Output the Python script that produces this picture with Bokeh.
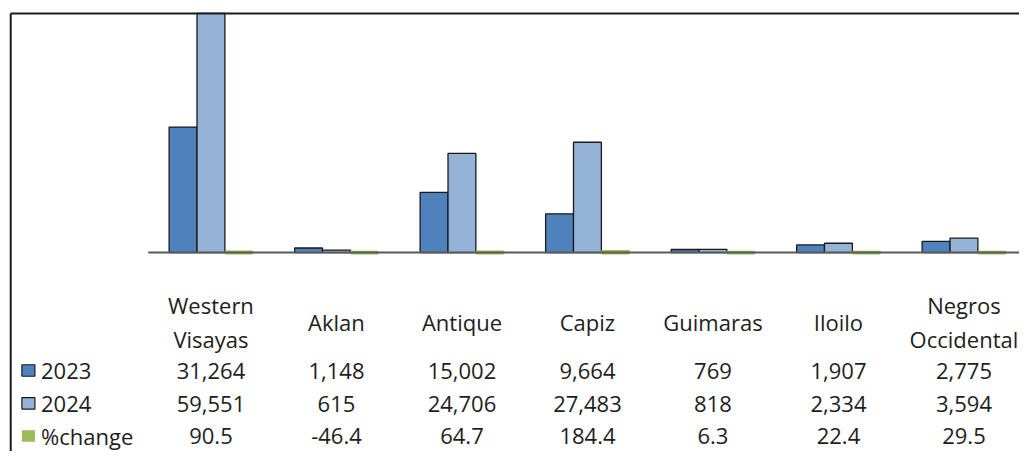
from bokeh.plotting import figure
from bokeh.models import Range1d, ColumnDataSource
from bokeh.core.properties import value
from bokeh.embed import file_html
from bokeh.resources import INLINE

# ---------------- data ----------------
categories = ["Western\nVisayas", "Aklan", "Antique", "Capiz", "Guimaras", "Iloilo", "Negros\nOccidental"]
series_names = ["2023", "2024", "%change"]
values_2023 = [31264, 1148, 15002, 9664, 769, 1907, 2775]
values_2024 = [59551, 615, 24706, 27483, 818, 2334, 3594]
pct_change = [90.5, -46.4, 64.7, 184.4, 6.3, 22.4, 29.5]
series_colors = ["#4F81BD", "#95B3D7", "#9BBB59"]

# ---------------- layout ----------------
W, H = 1019, 451
PX0 = 147.7        # figure px where the category axis starts
CAT_PX = 125.5     # px per category
BASE = 252.1       # figure px (from top) of the zero line
UPP = 249.0        # value units per px
FONT = value("Open Sans")
FS = "22px"
TXT = "#1e1e1e"

def ux(px):
    return (px - PX0) / CAT_PX

def uy(py):
    return (BASE - py) * UPP

p = figure(width=W, height=H,
           x_range=Range1d(ux(0), ux(W)), y_range=Range1d(uy(H), uy(0)),
           x_axis_type=None, y_axis_type=None,
           toolbar_location=None, output_backend="svg", min_border=0)
p.outline_line_color = None
p.background_fill_color = "white"
p.border_fill_color = "white"

n = len(categories)
bw = 1 / 4.5
centers = [i + 0.5 for i in range(n)]
all_series = [values_2023, values_2024, pct_change]

for k, vals in enumerate(all_series):
    xs = [c + (k - 1) * bw for c in centers]
    src = ColumnDataSource(dict(x=xs, top=vals))
    if k < 2:
        p.vbar(x="x", top="top", bottom=0, width=bw, source=src,
               fill_color=series_colors[k], line_color="#1a1a1a", line_width=1.3)
    else:
        p.vbar(x="x", top="top", bottom=0, width=bw * 0.97, source=src,
               fill_color=series_colors[k], line_color=series_colors[k], line_width=3.6)

# category axis line
p.segment(x0=[0], x1=[n], y0=[0], y1=[0], line_color="#595959", line_width=2)

# outer frame (left and top edges)
p.segment(x0=[ux(10.2)], x1=[ux(10.2)], y0=[uy(13)], y1=[uy(H + 5)], line_color="#1a1a1a", line_width=2)
p.segment(x0=[ux(10.2)], x1=[ux(W + 5)], y0=[uy(13)], y1=[uy(13)], line_color="#1a1a1a", line_width=2)

# ---------------- data table ----------------
header_y = uy(321.6)
p.text(x=centers, y=[header_y] * n, text=categories, text_font=FONT, text_font_size=FS,
       text_color=TXT, text_align="center", text_baseline="middle", text_line_height=1.14)

row_px = [370.5, 403.5, 435.5]
row_labels = [
    [f"{v:,}" for v in values_2023],
    [f"{v:,}" for v in values_2024],
    [f"{v:.1f}" for v in pct_change],
]
for r, labels in enumerate(row_labels):
    yy = uy(row_px[r])
    p.text(x=centers, y=[yy] * n, text=labels, text_font=FONT, text_font_size=FS,
           text_color=TXT, text_align="center", text_baseline="middle")

# legend keys + series names
key_y = [uy(py) for py in [370.0, 402.8, 435.5]]
key_lines = ["#1a1a1a", "#1a1a1a", None]
for r in range(3):
    p.rect(x=[ux(27.9)], y=[key_y[r]], width=13, height=11.5, width_units="screen", height_units="screen",
           fill_color=series_colors[r], line_color=key_lines[r], line_width=1.2)
p.text(x=[ux(40.5)] * 3, y=[uy(py) for py in row_px], text=series_names, text_font=FONT, text_font_size=FS,
       text_color=TXT, text_align="left", text_baseline="middle")

open("out.html", "w").write(file_html(p, INLINE))
